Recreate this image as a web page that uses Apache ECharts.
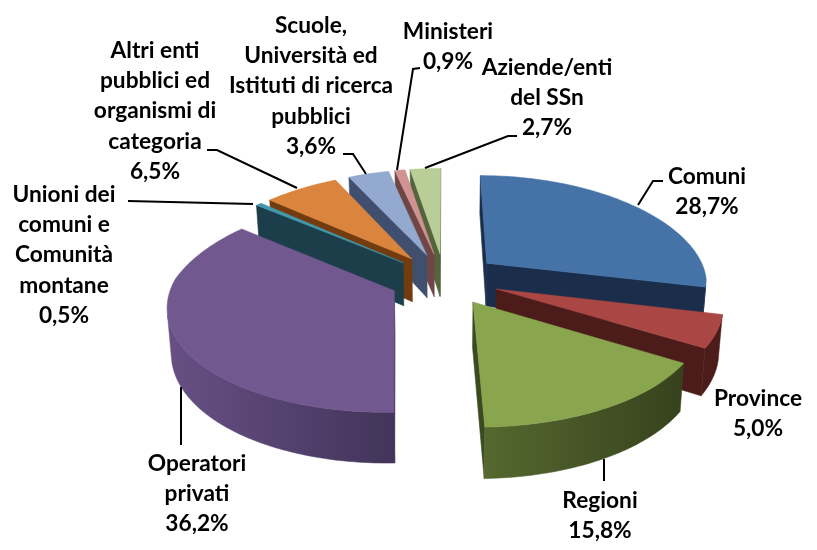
<!DOCTYPE html>
<html><head><meta charset="utf-8">
<style>html,body{margin:0;padding:0;background:#fff}#c{width:817px;height:550px}</style>
<script src="https://cdn.jsdelivr.net/npm/echarts@6/dist/echarts.min.js"></script>
</head><body><div id="c"></div>
<script>
// ---- data ----
const categories = ['Comuni','Province','Regioni','Operatori\nprivati','Unioni dei\ncomuni e\nComunità\nmontane',
  'Altri enti\npubblici ed\norganismi di\ncategoria','Scuole,\nUniversità ed\nIstituti di ricerca\npubblici','Ministeri','Aziende/enti\ndel SSn'];
const values = [28.7,5.0,15.8,36.2,0.5,6.5,3.6,0.9,2.7];
// ---- styling ----
const topColors = ['#4572A7','#AA4643','#89A54E','#71588F','#4198AF','#DB843D','#93A9CF','#D19392','#B9CD96'];
const sideA = ['#1A2E4C','#4B1C19','#55682F','#675084','#1C3E4B','#733C0F','#414F6E','#6E4646','#55643C'];
const sideB = ['#1A2E4C','#4B1C19','#36421C','#42345A','#1C3E4B','#733C0F','#414F6E','#6E4646','#55643C'];
const radial = ['#1A2E4C','#4B1C19','#3B4A20','#42345A','#1C3E4B','#733C0F','#414F6E','#6E4646','#55643C'];
const drawOrder = [8,7,6,5,4,0,1,2,3];
const labelCenters = [[707,161],[758,383],[600,485],[197,448],[64,179],[155,35],[311,10],[448,16],[547,52]];
const leaders = [
  [[663,181],[653,181],[638,205]],
  [[604,459],[604,481]],
  [[181,387],[181,445]],
  [[128,201],[253,204]],
  [[207,150],[217,150],[297,188]],
  [[343,154],[353,154],[366,174]],
  [[420,68],[413,69],[397,170]],
  [[517,136],[508,136],[425,168]]
];
// ---- projection of the tilted pie ----
const CX=444.5, CY=279, RX=221, RY=104, PY_BACK=0.14, PY_FRONT=0.12, PX_BACK=0.18, PX_FRONT=0.13, EXPLODE=0.25, DEPTH=44;
function proj(X,Y,low){
  const s=1/(1-(Y<0?PY_BACK:PY_FRONT)*Y), sx=1/(1-(Y<0?PX_BACK:PX_FRONT)*Y);
  let x=CX+RX*X*sx, y=CY+RY*Y*s;
  if(low){ x=CX+(x-CX)*0.985; y+=DEPTH*s; }
  return [x,y];
}
function area(pts){let s=0;for(let i=0;i<pts.length;i++){const a=pts[i],b=pts[(i+1)%pts.length];s+=a[0]*b[1]-b[0]*a[1];}return s/2;}
const total=values.reduce((a,b)=>a+b,0);
function renderSlice(params,api){
  const i=api.value(0), v=api.value(1);
  let before=0; for(let k=0;k<i;k++) before+=values[k];
  const a0=before/total*2*Math.PI, a1=(before+v)/total*2*Math.PI, mid=(a0+a1)/2;
  const ox=EXPLODE*Math.sin(mid), oy=-EXPLODE*Math.cos(mid);
  const n=Math.max(2,Math.ceil((a1-a0)/0.02));
  const rim=[]; for(let k=0;k<=n;k++){const a=a0+(a1-a0)*k/n; rim.push([ox+Math.sin(a),oy-Math.cos(a)]);}
  const apex=[ox,oy];
  const T=p=>proj(p[0],p[1],false), L=p=>proj(p[0],p[1],true);
  const children=[];
  // radial walls that face the viewer
  [[L(apex),T(apex),T(rim[0]),L(rim[0])],[T(apex),L(apex),L(rim[n]),T(rim[n])]].forEach(pts=>{
    if(area(pts)<0) children.push({type:'polygon',shape:{points:pts},style:{fill:radial[i],stroke:radial[i],lineWidth:0.6}});
  });
  // outer wall: only the part that faces the viewer
  const vis=[];
  for(let k=0;k<=n;k++){
    const nxt=Math.min(k+1,n), prv=Math.max(k-1,0);
    if(area([T(rim[prv]),T(rim[nxt]),L(rim[nxt]),L(rim[prv])])<0) vis.push(rim[k]);
  }
  if(vis.length>1){
    const pts=vis.map(T).concat(vis.slice().reverse().map(L));
    const xs=pts.map(p=>p[0]), x0=Math.min(...xs), x1=Math.max(...xs);
    const grad=new echarts.graphic.LinearGradient(x0,0,x1,0,[{offset:0,color:sideA[i]},{offset:1,color:sideB[i]}],true);
    children.push({type:'polygon',shape:{points:pts},style:{fill:grad,stroke:grad,lineWidth:0.5}});
  }
  const top=[T(apex)].concat(rim.map(T));
  children.push({type:'polygon',shape:{points:top},style:{fill:topColors[i],stroke:topColors[i],lineWidth:0.5}});
  return {type:'group',children};
}
function fmt(v){return v.toFixed(1).replace('.',',')+'%';}
const graphics=[];
leaders.forEach(p=>graphics.push({type:'polyline',z:20,shape:{points:p},style:{stroke:'#000',lineWidth:2,fill:null}}));
categories.forEach((c,i)=>graphics.push({type:'text',z:21,x:labelCenters[i][0],y:labelCenters[i][1],
  style:{text:c+'\n'+fmt(values[i]),fill:'#000',font:'bold 22.7px Lato',align:'center',verticalAlign:'top',lineHeight:30.4}}));
const chart=echarts.init(document.getElementById('c'),null,{renderer:'canvas'});
chart.setOption({
  animation:false,backgroundColor:'#fff',
  series:[{type:'custom',coordinateSystem:'none',silent:true,clip:false,
    data:drawOrder.map(i=>[i,values[i]]),renderItem:renderSlice}],
  graphic:{elements:graphics}
});
</script></body></html>
